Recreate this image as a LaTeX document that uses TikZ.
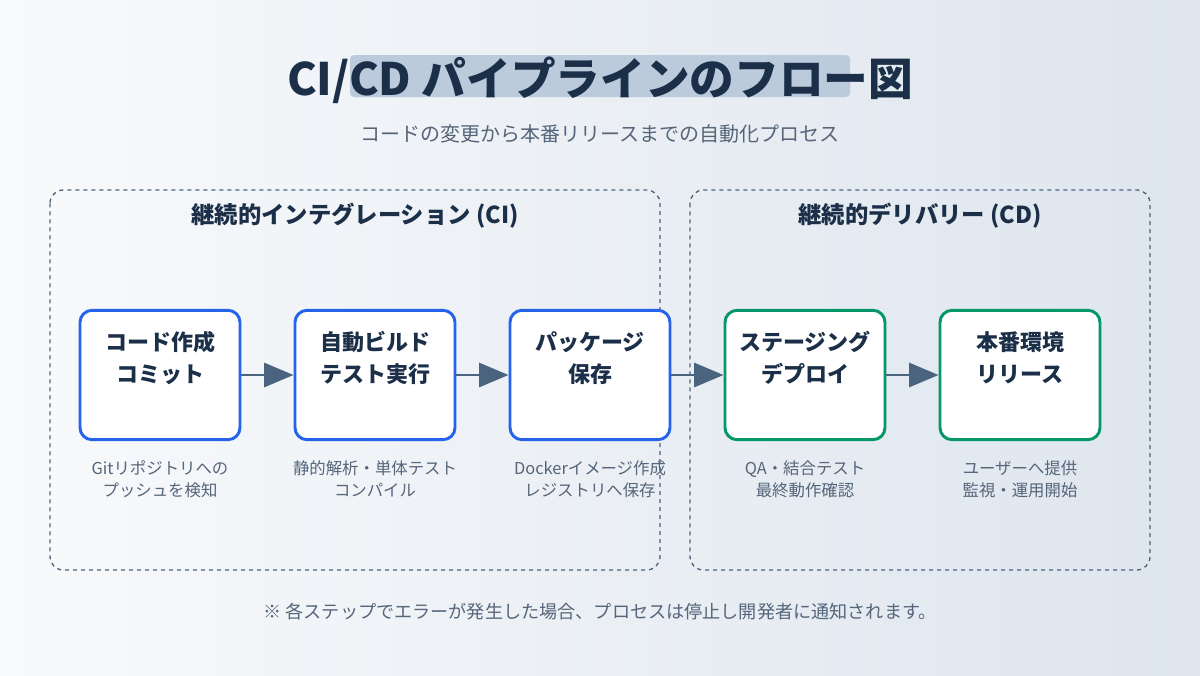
\documentclass[tikz,border=0pt]{standalone}
\usepackage{fontspec}
\setmainfont{Noto Sans CJK JP}
\usetikzlibrary{arrows.meta, positioning}
\definecolor{ink}{HTML}{1B2F48}
\definecolor{slate}{HTML}{4A6480}
\definecolor{cibl}{HTML}{2563EB}
\definecolor{cdgr}{HTML}{059669}
\definecolor{hilite}{HTML}{BCCBDC}
\definecolor{cap}{HTML}{55657A}

\tikzset{
  stage/.style={draw=#1, line width=2.2pt, fill=white, rounded corners=9pt,
    minimum width=120pt, minimum height=97pt, inner sep=0pt},
  stagetext/.style={font=\fontsize{16.5pt}{24pt}\selectfont\bfseries, text=ink, align=center},
  note/.style={font=\fontsize{12.3pt}{16.5pt}\selectfont, text=cap, align=center},
  phase/.style={draw=slate, dashed, line width=1pt, rounded corners=10pt},
  flow/.style={draw=slate, line width=2pt, -{Triangle[length=22pt, width=18pt]}}
}

\begin{document}
\begin{tikzpicture}[x=0.75pt, y=-0.75pt]
    \shade[left color=white!90!hilite, right color=hilite!50!white] (0,0) rectangle (1200,675);
    \useasboundingbox (0,0) rectangle (1200,675);

    % Title
    \fill[hilite, rounded corners=3pt] (350,55) rectangle (850,97);
    \node[font=\fontsize{33.5pt}{38pt}\selectfont\bfseries, text=ink] (title) at (600,80) {CI/CD パイプラインのフロー図};
    \node[font=\fontsize{15pt}{18pt}\selectfont, text=cap] (sub) at (600,134) {コードの変更から本番リリースまでの自動化プロセス};

    % Phases
    \draw[phase] (50,190) rectangle (660,570);
    \draw[phase] (690,190) rectangle (1150,570);
    \node[font=\fontsize{17.5pt}{20pt}\selectfont\bfseries, text=ink] (ci) at (355,216) {継続的インテグレーション (CI)};
    \node[font=\fontsize{17.5pt}{20pt}\selectfont\bfseries, text=ink] (cd) at (920,216) {継続的デリバリー (CD)};

    % Stages
    \node[stage=cibl] (commit) at (160,375) {};
    \node[stage=cibl] (build) at (375,375) {};
    \node[stage=cibl] (pack) at (590,375) {};
    \node[stage=cdgr] (stg) at (805,375) {};
    \node[stage=cdgr] (prod) at (1020,375) {};

    \node[stagetext] at (160,358) {コード作成\\コミット};
    \node[stagetext] at (375,358) {自動ビルド\\テスト実行};
    \node[stagetext] at (590,358) {パッケージ\\保存};
    \node[stagetext] at (805,358) {ステージング\\デプロイ};
    \node[stagetext] at (1020,358) {本番環境\\リリース};

    \node[note] at (160,479) {Gitリポジトリへの\\プッシュを検知};
    \node[note] at (375,479) {静的解析・単体テスト\\コンパイル};
    \node[note] at (590,479) {Dockerイメージ作成\\レジストリへ保存};
    \node[note] at (805,479) {QA・結合テスト\\最終動作確認};
    \node[note] at (1020,479) {ユーザーへ提供\\監視・運用開始};

    % Arrows
    \draw[flow] (commit) -- (build);
    \draw[flow] (build) -- (pack);
    \draw[flow] (pack) -- (stg);
    \draw[flow] (stg) -- (prod);

    \node[font=\fontsize{13.6pt}{16pt}\selectfont, text=cap] (foot) at (600,612) {※ 各ステップでエラーが発生した場合、プロセスは停止し開発者に通知されます。};
\end{tikzpicture}
\end{document}
